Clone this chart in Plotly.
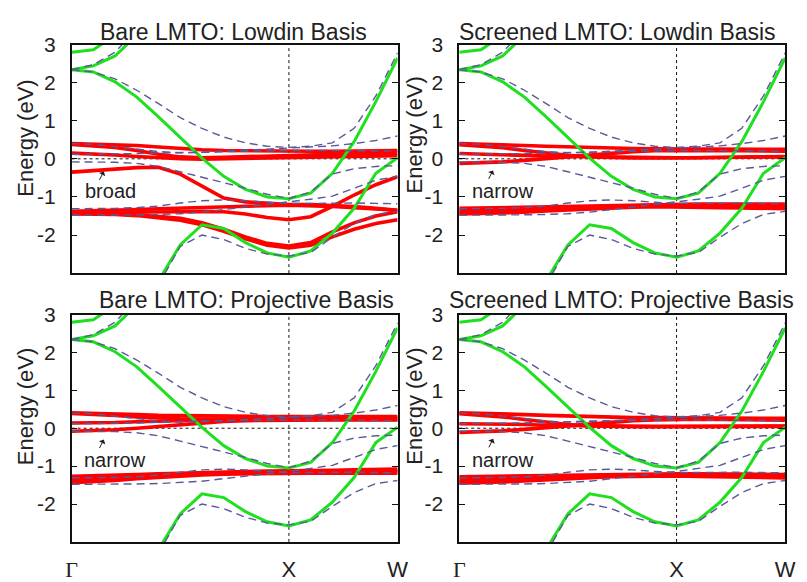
import plotly.graph_objects as go

# ---------------- data ----------------
K = [0.0, 0.1, 0.2, 0.3, 0.4, 0.5, 0.6, 0.7, 0.8, 0.9, 1.0, 1.1, 1.2, 1.3, 1.4, 1.5]
K_TICK_VALS = [0.0, 1.0, 1.5]
K_TICK_TEXT = ["<span style='font-family:Liberation Serif'>Γ</span>", "X", "W"]
X_POINT = 1.0
E_FERMI = 0.0
E_TICK_VALS = [-2, -1, 0, 1, 2, 3]
E_TICK_TEXT = ["-2", "-1", "0", "1", "2", "3"]
E_RANGE = [-3, 3]
N = None

# green solid bands (same in every panel)
green_1 = [2.80, 2.86, 3.25, N, N, N, N, N, N, N, N, N, N, N, N, N]
green_2 = [2.34, 2.44, 2.70, 3.25, N, N, N, N, N, N, N, N, N, N, N, N]
green_3 = [2.34, 2.28, 2.02, 1.62, 1.10, 0.55, 0.02, -0.46, -0.80, -1.00, -1.05, -0.90, -0.38, 0.45, 1.50, 2.65]
green_4 = [N, N, N, N, -3.20, -2.26, -1.73, -1.83, -2.20, -2.47, -2.58, -2.42, -1.95, -1.30, -0.38, 0.03]

# dashed bands (same in every panel)
dash_1 = [2.34, 2.47, 2.80, 3.40, N, N, N, N, N, N, N, N, N, N, N, N]
dash_2 = [2.34, 2.28, 2.10, 1.80, 1.45, 1.08, 0.80, 0.57, 0.42, 0.33, 0.30, 0.33, 0.42, 0.80, 1.65, 2.78]
dash_3 = [0.40, 0.38, 0.32, 0.25, 0.19, 0.16, 0.17, 0.20, 0.23, 0.25, 0.27, 0.30, 0.34, 0.40, 0.48, 0.60]
dash_4 = [0.12, 0.12, 0.13, 0.14, 0.15, 0.17, 0.19, 0.20, 0.21, 0.22, 0.22, 0.22, 0.22, 0.22, 0.21, 0.20]
dash_5 = [-0.08, -0.08, -0.09, -0.12, -0.20, -0.34, -0.48, -0.62, -0.77, -0.93, -1.04, -0.87, -0.40, -0.26, -0.20, -0.18]
dash_6 = [-1.48, -1.48, -1.48, -1.47, -1.46, -1.44, -1.40, -1.33, -1.27, -1.20, -1.14, -1.06, -0.98, -0.77, -0.56, -0.46]
dash_7 = [-1.31, -1.31, -1.30, -1.28, -1.24, -1.16, -1.10, -1.08, -1.10, -1.14, -1.17, -1.17, -1.16, -1.16, -1.17, -1.18]
dash_8 = [N, N, N, N, -3.30, -2.30, -2.00, -2.12, -2.35, -2.50, -2.55, -2.46, -2.06, -1.70, -1.46, -1.38]

# red bands: Bare LMTO, Lowdin basis
bare_lowdin = [
    [0.40, 0.39, 0.37, 0.35, 0.31, 0.27, 0.24, 0.22, 0.21, 0.20, 0.20, 0.20, 0.20, 0.21, 0.21, 0.22],
    [0.38, 0.35, 0.30, 0.22, 0.12, 0.05, 0.03, 0.04, 0.06, 0.08, 0.10, 0.11, 0.12, 0.13, 0.14, 0.15],
    [0.15, 0.13, 0.10, 0.06, 0.02, 0.00, -0.01, 0.00, 0.01, 0.02, 0.03, 0.04, 0.05, 0.06, 0.07, 0.08],
    [-0.35, -0.32, -0.27, -0.23, -0.22, -0.40, -0.72, -1.03, -1.13, -1.17, -1.20, -1.20, -1.22, -1.25, -1.30, -1.35],
    [-1.38, -1.37, -1.35, -1.33, -1.31, -1.29, -1.27, -1.25, -1.24, -1.23, -1.22, -1.23, -1.25, -1.28, -1.32, -1.35],
    [-1.41, -1.41, -1.41, -1.41, -1.40, -1.39, -1.38, -1.39, -1.45, -1.54, -1.60, -1.52, -1.25, -0.95, -0.68, -0.47],
    [-1.43, -1.43, -1.44, -1.46, -1.50, -1.56, -1.68, -1.85, -2.05, -2.22, -2.29, -2.20, -1.92, -1.68, -1.50, -1.39],
    [-1.45, -1.45, -1.46, -1.49, -1.54, -1.61, -1.73, -1.90, -2.10, -2.27, -2.34, -2.27, -2.05, -1.85, -1.70, -1.60],
]
# red bands: Screened LMTO, Lowdin basis
screened_lowdin = [
    [0.40, 0.39, 0.37, 0.35, 0.33, 0.31, 0.29, 0.28, 0.27, 0.26, 0.26, 0.26, 0.26, 0.25, 0.25, 0.25],
    [0.37, 0.34, 0.29, 0.22, 0.15, 0.09, 0.05, 0.03, 0.02, 0.02, 0.02, 0.02, 0.03, 0.04, 0.05, 0.05],
    [0.14, 0.13, 0.11, 0.09, 0.07, 0.06, 0.05, 0.04, 0.03, 0.03, 0.03, 0.03, 0.04, 0.04, 0.05, 0.06],
    [-0.12, -0.11, -0.08, -0.04, 0.01, 0.06, 0.11, 0.15, 0.19, 0.21, 0.22, 0.22, 0.22, 0.21, 0.21, 0.20],
    [-1.30, -1.29, -1.28, -1.27, -1.26, -1.24, -1.22, -1.21, -1.20, -1.19, -1.19, -1.19, -1.19, -1.19, -1.19, -1.19],
    [-1.37, -1.36, -1.34, -1.32, -1.30, -1.28, -1.26, -1.24, -1.23, -1.22, -1.22, -1.22, -1.22, -1.23, -1.24, -1.25],
    [-1.42, -1.41, -1.39, -1.36, -1.33, -1.30, -1.28, -1.26, -1.25, -1.24, -1.24, -1.25, -1.26, -1.27, -1.28, -1.29],
    [-1.45, -1.44, -1.42, -1.40, -1.37, -1.34, -1.31, -1.29, -1.27, -1.26, -1.26, -1.27, -1.28, -1.29, -1.30, -1.31],
]
# red bands: Bare LMTO, projective basis
bare_projective = [
    [0.41, 0.40, 0.38, 0.36, 0.34, 0.33, 0.32, 0.31, 0.31, 0.31, 0.31, 0.31, 0.31, 0.31, 0.31, 0.31],
    [0.39, 0.37, 0.34, 0.30, 0.27, 0.25, 0.24, 0.23, 0.23, 0.23, 0.23, 0.23, 0.23, 0.23, 0.23, 0.23],
    [0.14, 0.14, 0.15, 0.17, 0.19, 0.21, 0.22, 0.23, 0.24, 0.25, 0.25, 0.26, 0.27, 0.28, 0.28, 0.28],
    [-0.08, -0.07, -0.04, 0.00, 0.05, 0.10, 0.15, 0.18, 0.20, 0.21, 0.22, 0.22, 0.22, 0.22, 0.22, 0.22],
    [-1.27, -1.26, -1.24, -1.22, -1.20, -1.18, -1.16, -1.15, -1.14, -1.13, -1.13, -1.12, -1.11, -1.10, -1.09, -1.08],
    [-1.33, -1.31, -1.28, -1.25, -1.22, -1.20, -1.18, -1.17, -1.16, -1.15, -1.15, -1.14, -1.13, -1.13, -1.12, -1.12],
    [-1.40, -1.38, -1.34, -1.30, -1.26, -1.23, -1.21, -1.19, -1.18, -1.17, -1.17, -1.17, -1.16, -1.16, -1.15, -1.15],
    [-1.44, -1.42, -1.38, -1.33, -1.29, -1.26, -1.23, -1.21, -1.20, -1.19, -1.19, -1.19, -1.19, -1.19, -1.19, -1.19],
]
# red bands: Screened LMTO, projective basis
screened_projective = [
    [0.41, 0.40, 0.38, 0.36, 0.34, 0.32, 0.30, 0.29, 0.28, 0.28, 0.28, 0.27, 0.27, 0.26, 0.26, 0.26],
    [0.38, 0.35, 0.30, 0.23, 0.16, 0.10, 0.06, 0.04, 0.04, 0.04, 0.04, 0.04, 0.05, 0.05, 0.06, 0.06],
    [0.12, 0.12, 0.11, 0.10, 0.08, 0.07, 0.06, 0.05, 0.05, 0.05, 0.05, 0.05, 0.05, 0.05, 0.05, 0.05],
    [-0.11, -0.10, -0.07, -0.03, 0.02, 0.07, 0.12, 0.16, 0.20, 0.22, 0.24, 0.24, 0.23, 0.22, 0.21, 0.21],
    [-1.28, -1.27, -1.26, -1.25, -1.24, -1.23, -1.22, -1.21, -1.21, -1.20, -1.20, -1.20, -1.20, -1.21, -1.21, -1.22],
    [-1.35, -1.34, -1.32, -1.30, -1.28, -1.26, -1.25, -1.24, -1.23, -1.23, -1.23, -1.23, -1.23, -1.24, -1.25, -1.26],
    [-1.41, -1.40, -1.38, -1.35, -1.32, -1.29, -1.27, -1.26, -1.25, -1.25, -1.25, -1.25, -1.26, -1.27, -1.28, -1.29],
    [-1.45, -1.44, -1.42, -1.39, -1.36, -1.33, -1.30, -1.28, -1.27, -1.26, -1.26, -1.27, -1.28, -1.29, -1.30, -1.31],
]

GREEN_BANDS = [green_1, green_2, green_3, green_4]
DASHED_BANDS = [dash_1, dash_2, dash_3, dash_4, dash_5, dash_6, dash_7, dash_8]

PANEL_TITLES = ["Bare LMTO: Lowdin Basis", "Screened LMTO: Lowdin Basis",
                "Bare LMTO: Projective Basis", "Screened LMTO: Projective Basis"]
PANEL_RED = [bare_lowdin, screened_lowdin, bare_projective, screened_projective]
PANEL_LABELS = ["broad", "narrow", "narrow", "narrow"]
Y_TITLE = "Energy (eV)"

# ---------------- styling / layout ----------------
W, H = 807, 582
FONT = "Liberation Sans, Arial, Helvetica, sans-serif"
TXT = "#222222"
RED = "#ff0000"
GREEN = "#1ee01e"
DASHC = "#5a5a98"

# panel pixel boxes (left, right, top, bottom)
BOXES = [(67, 400, 34.3, 275.3), (463, 796, 34.3, 275.3),
         (67, 400, 319, 558.7), (463, 796, 319, 558.7)]
TITLE_POS = [(232, 21), (625, 21), (246, 304), (629, 304)]
YTITLE_POS = [(20, 133), (417, 130), (20, 416), (417, 416)]
LABEL_POS = [(0.18, -0.84), (0.20, -0.84), (0.20, -0.85), (0.20, -0.85)]
ARROW_TIP = [(0.148, -0.33), (0.155, -0.305), (0.148, -0.30), (0.156, -0.28)]
LABEL_STANDOFF = [10, 10, 10, 10]

fig = go.Figure()
layout = dict(
    width=W, height=H, margin=dict(l=0, r=0, t=0, b=0),
    paper_bgcolor="white", plot_bgcolor="white", showlegend=False,
    font=dict(family=FONT, color=TXT, size=21),
)
annotations = []
shapes = []

for p in range(4):
    sfx = "" if p == 0 else str(p + 1)
    xa, ya = "x" + sfx, "y" + sfx
    l, r, t, b = BOXES[p]
    bottom_row = p >= 2

    for band in PANEL_RED[p]:
        fig.add_trace(go.Scatter(x=K, y=band, mode="lines", xaxis=xa, yaxis=ya,
                                 line=dict(color=RED, width=3.6), hoverinfo="skip"))
    for band in GREEN_BANDS:
        fig.add_trace(go.Scatter(x=K, y=band, mode="lines", xaxis=xa, yaxis=ya,
                                 line=dict(color=GREEN, width=3), hoverinfo="skip"))
    for band in DASHED_BANDS:
        fig.add_trace(go.Scatter(x=K, y=band, mode="lines", xaxis=xa, yaxis=ya,
                                 line=dict(color=DASHC, width=1.4, dash="8px,5px"),
                                 hoverinfo="skip"))

    layout["xaxis" + sfx] = dict(
        domain=[l / W, r / W], range=[K[0], K[-1]], anchor=ya,
        showline=True, linecolor="#111", linewidth=1.5, mirror=True,
        showgrid=False, zeroline=False, ticks="",
        tickvals=K_TICK_VALS, ticktext=K_TICK_TEXT,
        showticklabels=bottom_row, ticklabelstandoff=7,
        tickfont=dict(size=22, color=TXT, family=FONT),
    )
    layout["yaxis" + sfx] = dict(
        domain=[1 - b / H, 1 - t / H], range=E_RANGE, anchor=xa,
        showline=True, linecolor="#111", linewidth=1.5, mirror="ticks",
        showgrid=False, zeroline=False, ticks="inside", ticklen=6,
        tickwidth=1, tickcolor="#111",
        tickvals=E_TICK_VALS, ticktext=E_TICK_TEXT,
        ticklabelstandoff=LABEL_STANDOFF[p],
        tickfont=dict(size=21, color=TXT, family=FONT),
    )

    # Fermi level and X-point dotted guides
    shapes.append(dict(type="line", xref=xa + " domain", yref=ya, x0=0, x1=1,
                       y0=E_FERMI, y1=E_FERMI, layer="below",
                       line=dict(color="#111", width=1, dash="dot")))
    shapes.append(dict(type="line", xref=xa, yref=ya + " domain", x0=X_POINT, x1=X_POINT,
                       y0=0, y1=1, layer="below",
                       line=dict(color="#111", width=1, dash="dot")))

    tx, ty = TITLE_POS[p]
    annotations.append(dict(text=PANEL_TITLES[p], xref="paper", yref="paper",
                            x=tx / W, y=1 - ty / H, xanchor="center", yanchor="middle",
                            showarrow=False, font=dict(size=23, color=TXT, family=FONT)))
    yx, yy = YTITLE_POS[p]
    annotations.append(dict(text=Y_TITLE, xref="paper", yref="paper",
                            x=yx / W, y=1 - yy / H, xanchor="center", yanchor="middle",
                            textangle=-90, showarrow=False,
                            font=dict(size=22, color=TXT, family=FONT)))
    lx, ly = LABEL_POS[p]
    annotations.append(dict(text=PANEL_LABELS[p], xref=xa, yref=ya, x=lx, y=ly,
                            xanchor="center", yanchor="middle", showarrow=False,
                            font=dict(size=20, color=TXT, family=FONT)))
    ax_, ay_ = ARROW_TIP[p]
    annotations.append(dict(text="", xref=xa, yref=ya, x=ax_, y=ay_,
                            showarrow=True, ax=-5, ay=10, arrowhead=1, arrowsize=1.2,
                            arrowwidth=1, arrowcolor=TXT))

layout["annotations"] = annotations
layout["shapes"] = shapes
fig.update_layout(**layout)
fig.write_html("out.html")
